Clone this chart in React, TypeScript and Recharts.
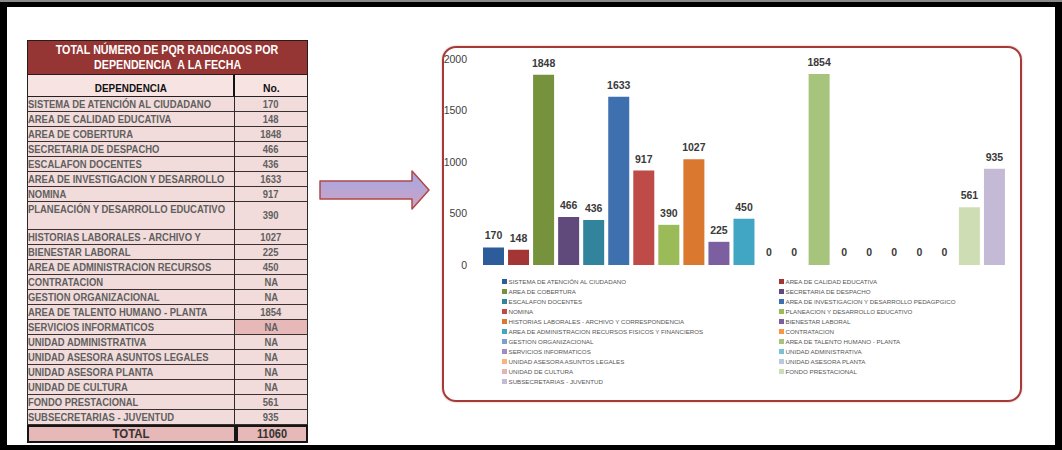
import React from "react";
import { BarChart, Bar, XAxis, YAxis, Cell, LabelList, Legend } from "recharts";

const tableNames = [
  "SISTEMA DE ATENCIÓN AL CIUDADANO",
  "AREA DE  CALIDAD EDUCATIVA",
  "AREA  DE COBERTURA",
  "SECRETARIA DE DESPACHO",
  "ESCALAFON DOCENTES",
  "AREA DE INVESTIGACION Y DESARROLLO",
  "NOMINA",
  "PLANEACIÓN Y DESARROLLO EDUCATIVO",
  "HISTORIAS LABORALES - ARCHIVO Y",
  "BIENESTAR LABORAL",
  "AREA DE ADMINISTRACION RECURSOS",
  "CONTRATACION",
  "GESTION ORGANIZACIONAL",
  "AREA DE TALENTO  HUMANO - PLANTA",
  "SERVICIOS INFORMATICOS",
  "UNIDAD ADMINISTRATIVA",
  "UNIDAD ASESORA ASUNTOS LEGALES",
  "UNIDAD ASESORA PLANTA",
  "UNIDAD DE CULTURA",
  "FONDO PRESTACIONAL",
  "SUBSECRETARIAS - JUVENTUD",
];

const tableCells = [
  "170", "148", "1848", "466", "436", "1633", "917", "390", "1027", "225", "450",
  "NA", "NA", "1854", "NA", "NA", "NA", "NA", "NA", "561", "935",
];

const tableTotal = "11060";

const legendNames = [
  "SISTEMA DE ATENCIÓN AL CIUDADANO",
  "AREA DE  CALIDAD EDUCATIVA",
  "AREA  DE COBERTURA",
  "SECRETARIA DE DESPACHO",
  "ESCALAFON DOCENTES",
  "AREA DE INVESTIGACION Y DESARROLLO PEDAGPGICO",
  "NOMINA",
  "PLANEACION Y DESARROLLO EDUCATIVO",
  "HISTORIAS LABORALES - ARCHIVO Y CORRESPONDENCIA",
  "BIENESTAR LABORAL",
  "AREA DE ADMINISTRACION RECURSOS FISICOS Y FINANCIEROS",
  "CONTRATACION",
  "GESTION ORGANIZACIONAL",
  "AREA DE TALENTO  HUMANO - PLANTA",
  "SERVICIOS INFORMATICOS",
  "UNIDAD ADMINISTRATIVA",
  "UNIDAD ASESORA ASUNTOS LEGALES",
  "UNIDAD ASESORA PLANTA",
  "UNIDAD DE CULTURA",
  "FONDO PRESTACIONAL",
  "SUBSECRETARIAS - JUVENTUD",
];

const values = [170, 148, 1848, 466, 436, 1633, 917, 390, 1027, 225, 450, 0, 0, 1854, 0, 0, 0, 0, 0, 561, 935];

const yTicks = [0, 500, 1000, 1500, 2000];

const colors = [
  "#2C5D9A", "#A33634", "#76923C", "#5F4A7B", "#31849B", "#3E70B0", "#BE4B48",
  "#9BBB59", "#D9782E", "#7C5FA0", "#41A5C4", "#F79646", "#7F9ED0", "#A6C47C",
  "#9F8DBE", "#79C1D6", "#F9B47D", "#B8C9E4", "#E5B3B1", "#CFDDB5", "#C5BAD6",
];

const chartData = legendNames.map((name, i) => ({ name, value: values[i] }));

const narrow: React.CSSProperties = {
  display: "inline-block",
  transform: "scaleX(0.82)",
  whiteSpace: "nowrap",
};

function rowTop(i: number) {
  if (i < 7) return 97 + 15 * i;
  if (i === 7) return 202;
  return 230 + 15 * (i - 8);
}
function rowHeight(i: number) {
  return i === 7 ? 28 : 15;
}

function Table() {
  const L = 27;
  const R = 308;
  const D = 235;
  const font = "'Liberation Sans', Arial, sans-serif";
  return (
    <div style={{ position: "absolute", left: 0, top: 0 }}>
      <div
        style={{
          position: "absolute",
          left: L,
          top: 40,
          width: R - L,
          height: 35,
          boxSizing: "border-box",
          background: "#963634",
          border: "1.5px solid #2a1a1a",
          color: "#fff",
          fontFamily: font,
          fontWeight: "bold",
          fontSize: 12,
          lineHeight: "15px",
          textAlign: "center",
          paddingTop: 2,
        }}
      >
        <div><span style={{ ...narrow, transform: "scaleX(0.89)" }}>TOTAL NÚMERO DE PQR RADICADOS POR</span></div>
        <div><span style={{ ...narrow, transform: "scaleX(0.89)" }}>DEPENDENCIA &nbsp;A LA FECHA</span></div>
      </div>
      <div
        style={{
          position: "absolute",
          left: L,
          top: 75,
          width: D - L,
          height: 22,
          boxSizing: "border-box",
          background: "#F6E3E2",
          borderLeft: "1.5px solid #222",
          borderRight: "2px solid #111",
          borderBottom: "1.5px solid #222",
          fontFamily: font,
          fontWeight: "bold",
          fontSize: 11.5,
          color: "#111",
          textAlign: "center",
          paddingTop: 7,
          lineHeight: "13px",
        }}
      >
        <span style={{ ...narrow, transform: "scaleX(0.86)" }}>DEPENDENCIA</span>
      </div>
      <div
        style={{
          position: "absolute",
          left: D,
          top: 75,
          width: R - D,
          height: 22,
          boxSizing: "border-box",
          background: "#F6E3E2",
          borderRight: "1.5px solid #222",
          borderBottom: "1.5px solid #222",
          fontFamily: font,
          fontWeight: "bold",
          fontSize: 11.5,
          color: "#111",
          textAlign: "center",
          paddingTop: 7,
          lineHeight: "13px",
        }}
      >
        <span style={{ ...narrow, transform: "scaleX(0.9)" }}>No.</span>
      </div>
      {tableNames.map((name, i) => {
        const top = rowTop(i);
        const h = rowHeight(i);
        const dark = i === 14;
        return (
          <React.Fragment key={i}>
            <div
              style={{
                position: "absolute",
                left: L,
                top,
                width: D - L,
                height: h,
                boxSizing: "border-box",
                background: "#F2DCDB",
                borderLeft: "1.5px solid #2a2a2a",
                borderRight: "1.5px solid #2a2a2a",
                borderBottom: "1px solid #3a3030",
                fontFamily: font,
                fontWeight: "bold",
                fontSize: 11.5,
                lineHeight: "14px",
                color: "#606060",
              }}
            >
              <span style={{ ...narrow, transformOrigin: "left center" }}>{name}</span>
            </div>
            <div
              style={{
                position: "absolute",
                left: D,
                top,
                width: R - D,
                height: h,
                boxSizing: "border-box",
                background: dark ? "#E6B8B7" : "#F2DCDB",
                borderRight: "1.5px solid #2a2a2a",
                borderBottom: "1px solid #3a3030",
                fontFamily: font,
                fontWeight: "bold",
                fontSize: 11.5,
                lineHeight: h - 1 + "px",
                color: "#606060",
                textAlign: "center",
              }}
            >
              <span style={narrow}>{tableCells[i]}</span>
            </div>
          </React.Fragment>
        );
      })}
      <div
        style={{
          position: "absolute",
          left: L,
          top: 425,
          width: D - L + 1,
          height: 18,
          boxSizing: "border-box",
          background: "#E6B8B7",
          border: "2px solid #151515",
          fontFamily: font,
          fontWeight: "bold",
          fontSize: 13,
          lineHeight: "14px",
          color: "#333",
          textAlign: "center",
        }}
      >
        <span style={{ ...narrow, transform: "scaleX(0.88)" }}>TOTAL</span>
      </div>
      <div
        style={{
          position: "absolute",
          left: D + 1,
          top: 425,
          width: R - D - 1,
          height: 18,
          boxSizing: "border-box",
          background: "#E6B8B7",
          border: "2px solid #151515",
          fontFamily: font,
          fontWeight: "bold",
          fontSize: 12.5,
          lineHeight: "14px",
          color: "#333",
          textAlign: "center",
        }}
      >
        <span style={{ ...narrow, transform: "scaleX(0.88)" }}>{tableTotal}</span>
      </div>
    </div>
  );
}

function Arrow() {
  return (
    <svg width={124} height={46} style={{ position: "absolute", left: 315, top: 168 }}>
      <defs>
        <linearGradient id="arrowFill" x1="0" y1="0" x2="0" y2="1">
          <stop offset="0%" stopColor="#A2A8E6" />
          <stop offset="100%" stopColor="#CFA2C2" />
        </linearGradient>
      </defs>
      <polygon
        points="5,13 97,13 97,3 114,22 97,41 97,31 5,31"
        fill="url(#arrowFill)"
        stroke="#B04848"
        strokeWidth={1.5}
        strokeLinejoin="round"
      />
    </svg>
  );
}

function LegendContent() {
  return (
    <div
      style={{
        position: "relative",
        width: 500,
        height: 115,
        fontFamily: "'Liberation Sans', Arial, sans-serif",
        fontSize: 6.2,
        color: "#555",
      }}
    >
      {legendNames.map((name, i) => {
        const col = i % 2;
        const row = Math.floor(i / 2);
        return (
          <div
            key={i}
            style={{
              position: "absolute",
              left: col ? 277 : 0,
              top: row * 10,
              height: 10,
              display: "flex",
              alignItems: "center",
              whiteSpace: "nowrap",
            }}
          >
            <span
              style={{
                display: "inline-block",
                width: 5,
                height: 5,
                background: colors[i],
                marginRight: 1.5,
              }}
            />
            <span>{name}</span>
          </div>
        );
      })}
    </div>
  );
}

const zeroMin = (v: any) => (v === 0 ? 1 : 0);

export default function App() {
  return (
    <div
      style={{
        position: "absolute",
        left: 0,
        top: 0,
        width: 1062,
        height: 450,
        background: "#000",
        overflow: "hidden",
      }}
    >
      <div style={{ position: "absolute", left: 0, top: 0, width: 1062, height: 2, background: "#8a8a8a" }} />
      <div style={{ position: "absolute", left: 7, top: 7, width: 1048, height: 438, background: "#fff" }} />
      <Table />
      <Arrow />
      <div
        style={{
          position: "absolute",
          left: 442,
          top: 46,
          width: 580,
          height: 356,
          boxSizing: "border-box",
          border: "2px solid #A53A39",
          borderRadius: 14,
          boxShadow: "0 0 2px rgba(170,70,70,0.5)",
        }}
      />
      <div style={{ position: "absolute", left: 443, top: 47 }}>
        <BarChart
          width={578}
          height={354}
          data={chartData}
          margin={{ top: 12, right: 14, left: 0, bottom: 136 }}
        >
          <XAxis dataKey="name" hide />
          <YAxis
            domain={[0, 2000]}
            ticks={yTicks}
            width={38}
            axisLine={false}
            tickLine={false}
            tickSize={0}
            tickMargin={14}
            interval={0}
            tick={{ fill: "#404040", fontSize: 10.5, fontFamily: "'Liberation Sans', Arial, sans-serif" }}
          />
          <Legend
            layout="vertical"
            align="center"
            verticalAlign="middle"
            content={<LegendContent />}
            wrapperStyle={{ left: 59, top: 229, width: 500, height: 115 }}
          />
          <Bar dataKey="value" barSize={21} minPointSize={zeroMin} isAnimationActive={false}>
            {chartData.map((d, i) => (
              <Cell key={i} fill={colors[i]} fillOpacity={d.value === 0 ? 0 : 1} />
            ))}
            <LabelList
              dataKey="value"
              position="top"
              offset={8}
              fill="#3a3a3a"
              fontSize={10.5}
              fontWeight="bold"
              fontFamily="'Liberation Sans', Arial, sans-serif"
            />
          </Bar>
        </BarChart>
      </div>
    </div>
  );
}
